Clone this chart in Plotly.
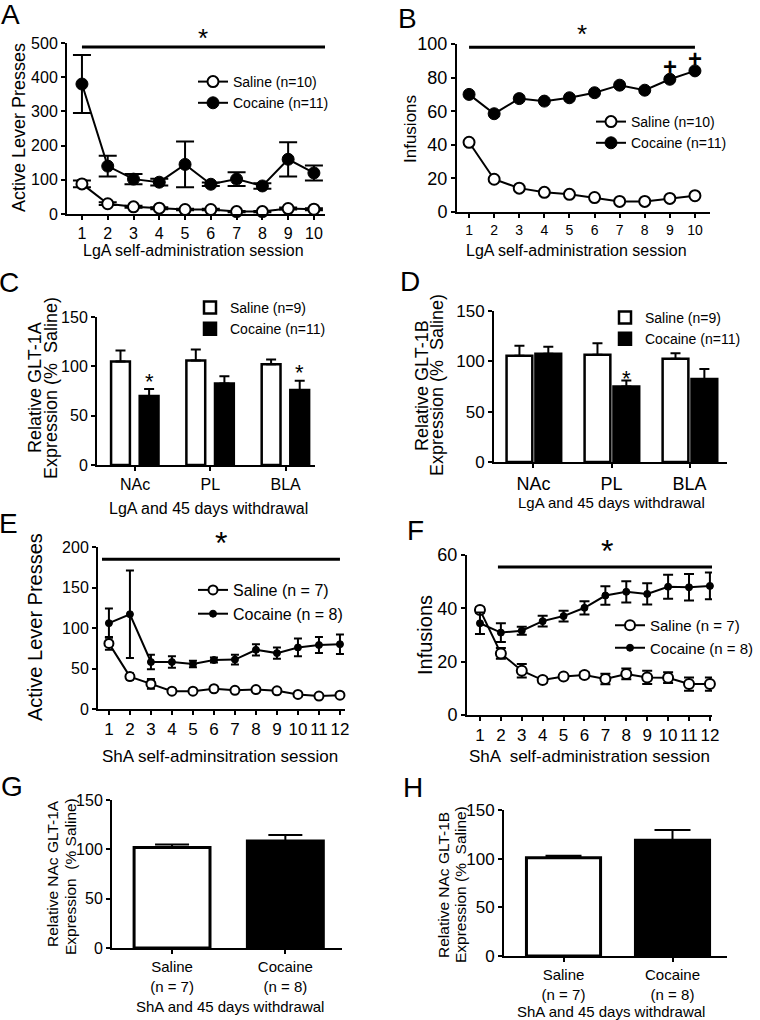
import plotly.graph_objects as go

FONT = "Liberation Sans, Arial, Helvetica, sans-serif"
W, H = 760, 1020

# ---------------- data ----------------
lga_sessions = list(range(1, 11))
sha_sessions = list(range(1, 13))

# A: LgA active lever presses (mean, SEM)
a_sal = [88, 30, 21, 17, 13, 13, 7, 7, 16, 14]
a_sal_err = [10, 4, 3, 3, 2, 2, 2, 2, 3, 3]
a_coc = [380, 140, 102, 93, 145, 87, 102, 82, 160, 120]
a_coc_err = [85, 30, 15, 10, 67, 5, 20, 8, 50, 22]

# B: LgA infusions
b_sal = [41.5, 19.5, 14.2, 11.7, 10.5, 8.6, 6.3, 6.3, 8.1, 9.7]
b_sal_err = [1.2, 1.0, 1.0, 0.8, 0.8, 0.8, 0.6, 0.6, 0.8, 0.8]
b_coc = [70, 58.5, 67.5, 66, 68, 71, 75.5, 72.5, 79, 84]
b_coc_err = [1.5, 1.5, 1.5, 1.5, 1.5, 1.5, 1.5, 1.5, 1.5, 1.5]
b_plus_sessions = [9, 10]

# C / D: GLT-1A / GLT-1B after LgA + 45 d withdrawal
regions = ["NAc", "PL", "BLA"]
c_sal = [105, 106, 102]
c_sal_err = [11, 11, 5]
c_coc = [70, 82.5, 76]
c_coc_err = [7, 7.5, 9.5]
c_sig = [True, False, True]

d_sal = [105.5, 106.5, 102.5]
d_sal_err = [10, 11.5, 5.5]
d_coc = [107.5, 75, 82.5]
d_coc_err = [7, 6, 10]
d_sig = [False, True, False]

# E: ShA active lever presses
e_sal = [81, 40, 31, 22, 22, 25, 23, 24, 22.5, 18, 16, 17]
e_sal_err = [8, 4, 6, 2, 2, 2, 3, 2, 2, 2, 1.5, 1.5]
e_coc = [106, 117, 58, 58, 55.5, 60.5, 61, 73, 69, 76, 79, 80]
e_coc_err = [18, 54, 9, 7, 4, 3, 6, 7, 7, 11, 10, 12]

# F: ShA infusions
f_sal = [39.4, 23.1, 16.6, 13.1, 14.4, 15, 13.5, 15.4, 14.1, 14, 11.6, 11.6]
f_sal_err = [1, 2, 2.5, 1, 0.5, 1, 2, 2, 2.5, 2, 2.5, 2.5]
f_coc = [34.4, 30.9, 31.6, 35.2, 37.1, 40.2, 44.8, 46.2, 45.4, 48.1, 47.9, 48.4]
f_coc_err = [4, 3.5, 1.5, 2, 2, 2.5, 3.5, 4, 4, 4.5, 5, 5]

# G / H: NAc GLT-1A / GLT-1B after ShA + 45 d withdrawal
sha_groups = ["Saline<br>(n = 7)", "Cocaine<br>(n = 8)"]
g_vals = [101.8, 108.5]
g_err = [3, 6]
h_vals = [101, 119]
h_err = [2, 10.5]

# significance bars (x start, x end, y level) in data units
sig_A = (1, 10.43, 488)
sig_B = (1, 10, 98)
sig_E = (0.67, 12.0, 185)
sig_F = (1.86, 12.3, 55.5)


def P(xpx):
    return xpx / W


def Q(ypx):
    return 1 - ypx / H


fig = go.Figure()
layout = dict(
    width=W, height=H, margin=dict(l=0, r=0, t=0, b=0, autoexpand=False),
    paper_bgcolor="white", plot_bgcolor="white",
    font=dict(family=FONT, color="black"),
    barmode="overlay",
    annotations=[], shapes=[],
)


def add_axes(n, xpx, ypx, xr, yr, ydtick, yfs, xfs, xtickvals=None, xticktext=None):
    base = dict(showline=True, linecolor="black", linewidth=2, ticks="outside",
                ticklen=4, tickwidth=2, tickcolor="black", showgrid=False,
                zeroline=False, fixedrange=True, automargin=False, tickangle=0)
    xa = dict(base, domain=[P(xpx[0]), P(xpx[1])], range=xr, anchor="y%d" % n,
              tickfont=dict(family=FONT, size=xfs, color="black"))
    if xtickvals is not None:
        xa.update(tickmode="array", tickvals=xtickvals, ticktext=xticktext)
    else:
        xa.update(tickmode="linear", tick0=1, dtick=1)
    ya = dict(base, domain=[Q(ypx[1]), Q(ypx[0])], range=yr, anchor="x%d" % n,
              tickmode="linear", tick0=0, dtick=ydtick,
              tickfont=dict(family=FONT, size=yfs, color="black"))
    layout["xaxis" if n == 1 else "xaxis%d" % n] = xa
    layout["yaxis" if n == 1 else "yaxis%d" % n] = ya


def xref(n):
    return "x" if n == 1 else "x%d" % n


def yref(n):
    return "y" if n == 1 else "y%d" % n


def line_traces(n, x, sal, sal_err, coc, coc_err, names, legend, sal_size, coc_size, cap):
    fig.add_trace(go.Scatter(
        x=x, y=sal, name=names[0], mode="lines+markers", legend=legend,
        xaxis=xref(n), yaxis=yref(n), cliponaxis=False,
        line=dict(color="black", width=2),
        marker=dict(symbol="circle", size=sal_size, color="white",
                    line=dict(color="black", width=2)),
        error_y=dict(type="data", array=sal_err, color="black", thickness=2, width=cap)))
    fig.add_trace(go.Scatter(
        x=x, y=coc, name=names[1], mode="lines+markers", legend=legend,
        xaxis=xref(n), yaxis=yref(n), cliponaxis=False,
        line=dict(color="black", width=2),
        marker=dict(symbol="circle", size=coc_size, color="black",
                    line=dict(color="black", width=1)),
        error_y=dict(type="data", array=coc_err, color="black", thickness=2, width=cap)))


def bar_pair(n, sal, sal_err, coc, coc_err, names, legend, width, sal_off, coc_off, cap):
    xs = list(range(len(sal)))
    fig.add_trace(go.Bar(
        x=xs, y=sal, name=names[0], legend=legend, width=width, offset=sal_off,
        xaxis=xref(n), yaxis=yref(n),
        marker=dict(color="white", line=dict(color="black", width=2.5)),
        error_y=dict(type="data", array=sal_err, arrayminus=[0] * len(sal),
                     symmetric=False, color="black", thickness=2, width=cap)))
    fig.add_trace(go.Bar(
        x=xs, y=coc, name=names[1], legend=legend, width=width, offset=coc_off,
        xaxis=xref(n), yaxis=yref(n),
        marker=dict(color="black", line=dict(color="black", width=2.5)),
        error_y=dict(type="data", array=coc_err, arrayminus=[0] * len(coc),
                     symmetric=False, color="black", thickness=2, width=cap)))


def legend_box(xpx, ypx, size):
    return dict(x=P(xpx), y=Q(ypx), xanchor="left", yanchor="top",
                bgcolor="rgba(0,0,0,0)", borderwidth=0, tracegroupgap=0,
                font=dict(family=FONT, size=size, color="black"))


def text(xp, yp, s, size, angle=0, xanchor="center", **kw):
    layout["annotations"].append(dict(
        x=P(xp), y=Q(yp), xref="paper", yref="paper", text=s, showarrow=False,
        textangle=angle, xanchor=xanchor, yanchor="middle",
        font=dict(family=FONT, size=size, color="black"), **kw))


def sig_line(n, sig, star_size, star_shift):
    x0, x1, yv = sig
    layout["shapes"].append(dict(type="line", xref=xref(n), yref=yref(n),
                                 x0=x0, x1=x1, y0=yv, y1=yv,
                                 line=dict(color="black", width=3)))
    layout["annotations"].append(dict(
        x=(x0 + x1) / 2, y=yv, xref=xref(n), yref=yref(n), text="*",
        showarrow=False, yanchor="middle", yshift=star_shift,
        font=dict(family=FONT, size=star_size, color="black")))


# ---------------- Panel A ----------------
add_axes(1, (67, 325), (43, 214), [0.42, 10.43], [0, 500], 100, 16, 16)
line_traces(1, lga_sessions, a_sal, a_sal_err, a_coc, a_coc_err,
            ["Saline (n=10)", "Cocaine (n=11)"], "legend", 11, 12, 9)
layout["legend"] = legend_box(193, 66, 14)
sig_line(1, sig_A, 26, 9)

# ---------------- Panel B ----------------
add_axes(2, (457, 710), (44, 212), [0.52, 10.6], [0, 100], 20, 18, 14)
line_traces(2, lga_sessions, b_sal, b_sal_err, b_coc, b_coc_err,
            ["Saline (n=10)", "Cocaine (n=11)"], "legend2", 11, 12, 5)
layout["legend2"] = legend_box(591, 106, 14)
sig_line(2, sig_B, 26, 13)
for s in b_plus_sessions:
    i = lga_sessions.index(s)
    layout["annotations"].append(dict(
        x=s, y=b_coc[i] + b_coc_err[i], xref="x2", yref="y2", text="<b>+</b>",
        showarrow=False, yanchor="middle", yshift=10,
        font=dict(family=FONT, size=24, color="black")))

# ---------------- Panel C ----------------
add_axes(3, (97, 315), (317, 465), [-0.505, 2.39], [0, 150], 50, 16, 16,
         [0, 1, 2], regions)
c_w, c_soff, c_coff = 0.25, -0.318, 0.062
bar_pair(3, c_sal, c_sal_err, c_coc, c_coc_err,
         ["Saline (n=9)", "Cocaine (n=11)"], "legend3", c_w, c_soff, c_coff, 5)
layout["legend3"] = legend_box(190, 292, 14)
for i, sg in enumerate(c_sig):
    if sg:
        layout["annotations"].append(dict(
            x=i + c_coff + c_w / 2, y=c_coc[i] + c_coc_err[i], xref="x3", yref="y3",
            text="*", showarrow=False, yanchor="middle", yshift=8,
            font=dict(family=FONT, size=22, color="black")))

# ---------------- Panel D ----------------
add_axes(4, (494, 727), (311, 462), [-0.506, 2.48], [0, 150], 50, 17, 18,
         [0, 1, 2], regions)
d_w, d_soff, d_coff = 0.33, -0.345, 0.025
bar_pair(4, d_sal, d_sal_err, d_coc, d_coc_err,
         ["Saline (n=9)", "Cocaine (n=11)"], "legend4", d_w, d_soff, d_coff, 5)
layout["legend4"] = legend_box(605, 302, 14)
for i, sg in enumerate(d_sig):
    if sg:
        layout["annotations"].append(dict(
            x=i + d_coff + d_w / 2, y=d_coc[i] + d_coc_err[i], xref="x4", yref="y4",
            text="*", showarrow=False, yanchor="middle", yshift=2,
            font=dict(family=FONT, size=22, color="black")))

# ---------------- Panel E ----------------
add_axes(5, (98, 345), (547, 709), [0.48, 12.24], [0, 200], 50, 16, 17)
line_traces(5, sha_sessions, e_sal, e_sal_err, e_coc, e_coc_err,
            ["Saline (n = 7)", "Cocaine (n = 8)"], "legend5", 9, 7, 4)
layout["legend5"] = legend_box(193, 573, 16)
sig_line(5, sig_E, 32, 16)

# ---------------- Panel F ----------------
add_axes(6, (467, 712), (555, 715), [0.38, 12.1], [0, 60], 20, 18, 17)
line_traces(6, sha_sessions, f_sal, f_sal_err, f_coc, f_coc_err,
            ["Saline (n = 7)", "Cocaine (n = 8)"], "legend6", 10, 7, 5)
layout["legend6"] = legend_box(610, 609, 15)
sig_line(6, sig_F, 32, 16)

# ---------------- Panel G ----------------
add_axes(7, (112, 342), (800, 948), [-0.53, 1.5], [0, 150], 50, 16, 15,
         [0, 1], sha_groups)
fig.add_trace(go.Bar(x=[0, 1], y=g_vals, width=0.67, xaxis="x7", yaxis="y7",
                     showlegend=False,
                     marker=dict(color=["white", "black"], line=dict(color="black", width=3)),
                     error_y=dict(type="data", array=g_err, arrayminus=[0, 0],
                                  symmetric=False, color="black", thickness=2, width=17)))

# ---------------- Panel H ----------------
add_axes(8, (504, 727), (810, 956), [-0.546, 1.5], [0, 150], 50, 17, 15,
         [0, 1], sha_groups)
fig.add_trace(go.Bar(x=[0, 1], y=h_vals, width=0.68, xaxis="x8", yaxis="y8",
                     showlegend=False,
                     marker=dict(color=["white", "black"], line=dict(color="black", width=3)),
                     error_y=dict(type="data", array=h_err, arrayminus=[0, 0],
                                  symmetric=False, color="black", thickness=2, width=18)))

# ---------------- titles ----------------
# y-axis titles
text(19, 128, "Active Lever Presses", 18, angle=-90)
text(410, 129, "Infusions", 17, angle=-90)
text(35, 388, "Relative GLT-1A", 18, angle=-90)
text(51, 388, "Expression (% \u00a0Saline)", 18, angle=-90)
text(422, 385, "Relative GLT-1B", 18, angle=-90)
text(437, 385, "Expression (% \u00a0Saline)", 18, angle=-90)
text(35, 627, "Active Lever Presses", 20, angle=-90)
text(425, 635, "Infusions", 20, angle=-90)
text(52, 874, "Relative NAc GLT-1A", 15.5, angle=-90)
text(70, 877, "Expression \u00a0(% Saline)", 15.5, angle=-90)
text(443, 885, "Relative NAc GLT-1B", 15.5, angle=-90)
text(460, 885, "Expression (% \u00a0Saline)", 15.5, angle=-90)

# x-axis titles
text(193, 250, "LgA self-administration session", 16)
text(576, 250, "LgA self-administration session", 16)
text(208, 508, "LgA and 45 days withdrawal", 16)
text(611, 502, "LgA and 45 days withdrawal", 15)
text(220, 756, "ShA self-adminsitration session", 17)
text(589, 756, "ShA \u00a0self-administration session", 17)
text(230, 1006, "ShA and 45 days withdrawal", 15)
text(611, 1011, "ShA and 45 days withdrawal", 15)

# panel letters
for lx, ly, lt in [(10, 15, "A"), (407, 18, "B"), (9, 282, "C"), (410, 281, "D"),
                   (8, 523, "E"), (415, 530, "F"), (12, 786, "G"), (413, 787, "H")]:
    text(lx, ly, lt, 28)

fig.update_layout(**layout)
# remove the browser's default 8px body margin so the figure fills the window exactly
fig.write_html("out.html",
               config={"displayModeBar": False},
               post_script="document.body.style.margin='0';document.body.style.overflow='hidden';")
